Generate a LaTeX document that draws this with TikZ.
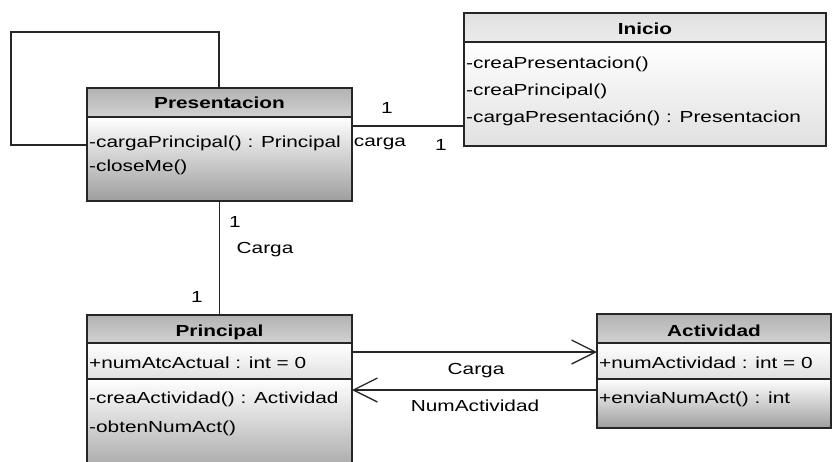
\documentclass[tikz,border=0pt]{standalone}
\usepackage{fontspec}
\setmainfont{Liberation Sans}[FakeStretch=1.3]
\usetikzlibrary{arrows.meta}
\begin{document}
\begin{tikzpicture}[x=1pt,y=-1pt,
  classbox/.style={draw=black!85, line width=1.3pt, inner sep=0pt, outer sep=0pt},
  sep/.style={draw=black!85, line width=1.3pt},
  member/.style={anchor=base west, inner sep=0pt, font=\fontsize{16}{20}\selectfont},
  title/.style={anchor=base, inner sep=0pt, font=\fontsize{16}{20}\selectfont\bfseries},
  lbl/.style={anchor=base, inner sep=0pt, font=\fontsize{16}{20}\selectfont},
  assoc/.style={line width=1.3pt, draw=black!85},
  nav/.style={assoc, -{Straight Barb[length=24pt,width=24pt,line width=1.3pt]}},
  hdr/.style={top color=black!30, bottom color=black!18},
  body/.style={top color=white, bottom color=black!38},
  light/.style={top color=white, bottom color=black!12},
]
\clip (0,0) rectangle (832,461);
\fill[white] (0,0) rectangle (832,461);

% ---- Presentacion ----
\shade[hdr] (87,88) rectangle (352,117);
\shade[body] (87,117) rectangle (352,201);
\node[classbox, minimum width=265pt, minimum height=113pt] (pres) at (219.5,144.5) {};
\draw[sep] (87,117) -- (352,117);
\node[title] at (219.5,108) {Presentacion};
\node[member] at (89,147) {-cargaPrincipal() : Principal};
\node[member] at (89,171) {-closeMe()};

% ---- Inicio ----
\shade[top color=black!12, bottom color=black!8] (464,13) rectangle (826,42);
\shade[light] (464,42) rectangle (826,146);
\node[classbox, minimum width=362pt, minimum height=133pt] (ini) at (645,79.5) {};
\draw[sep] (464,42) -- (826,42);
\node[title] at (645,34) {Inicio};
\node[member] at (466,68) {-creaPresentacion()};
\node[member] at (466,95) {-creaPrincipal()};
\node[member] at (466,122) {-cargaPresentación() : Presentacion};

% ---- Principal ----
\shade[hdr] (87,315) rectangle (352,343);
\shade[light] (87,343) rectangle (352,379);
\shade[body] (87,379) rectangle (352,480);
\node[classbox, minimum width=265pt, minimum height=165pt] (prin) at (219.5,397.5) {};
\draw[sep] (87,343) -- (352,343);
\draw[sep] (87,379) -- (352,379);
\node[title] at (219.5,336) {Principal};
\node[member] at (89,368) {+numAtcActual : int = 0};
\node[member] at (89,403) {-creaActividad() : Actividad};
\node[member] at (89,432) {-obtenNumAct()};

% ---- Actividad ----
\shade[hdr] (597,314) rectangle (831,343);
\shade[light] (597,343) rectangle (831,379);
\shade[body] (597,379) rectangle (831,428);
\node[classbox, minimum width=234pt, minimum height=114pt] (act) at (714,371) {};
\draw[sep] (597,343) -- (831,343);
\draw[sep] (597,379) -- (831,379);
\node[title] at (714,336) {Actividad};
\node[member] at (599,368) {+numActividad : int = 0};
\node[member] at (599,403) {+enviaNumAct() : int};

% ---- self association on Presentacion ----
\coordinate (loopA) at (219,32);
\coordinate (loopB) at (11,32);
\coordinate (loopC) at (11,145);
\draw[assoc] (pres.north -| loopA) -- (loopA) -- (loopB) -- (loopC) -- (loopC -| pres.west);

% ---- Presentacion -- Inicio ----
\path ([yshift=18.5pt]pres.east) coordinate (pi);
\draw[assoc] (pi) -- (pi -| ini.west);
\node[lbl] at (387,113) {1};
\node[lbl] at (380,146) {carga};
\node[lbl] at (441,150) {1};

% ---- Presentacion -- Principal ----
\draw[assoc] (pres.south) -- (prin.north);
\node[lbl] at (235,227) {1};
\node[lbl] at (265,253) {Carga};
\node[lbl] at (197,302) {1};

% ---- Principal <-> Actividad ----
\path ([yshift=45.5pt]prin.east) coordinate (pa);
\path ([yshift=7.5pt]prin.east) coordinate (ap);
\draw[nav] (pa) -- (pa -| act.west);
\draw[nav] (ap -| act.west) -- (ap);
\node[lbl] at (476,374) {Carga};
\node[lbl] at (475,411) {NumActividad};
\end{tikzpicture}
\end{document}
